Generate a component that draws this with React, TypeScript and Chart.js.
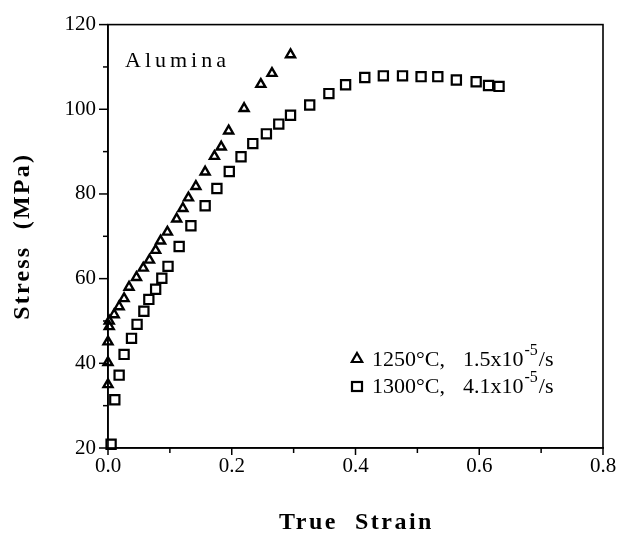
import React, { useEffect, useRef } from "react";
import { Chart, registerables } from "chart.js";
Chart.register(...registerables);

// 1250°C, 1.5x10^-5/s (triangles)
const triStrain = [0, 0, 0, 0.002, 0.002, 0.010, 0.018, 0.026, 0.034, 0.046, 0.057, 0.067, 0.077, 0.085, 0.096, 0.111, 0.121, 0.130, 0.142, 0.157, 0.172, 0.183, 0.195, 0.220, 0.247, 0.265, 0.295];
const triStress = [35.0, 40.2, 45.1, 48.7, 50.0, 51.5, 53.4, 55.3, 58.0, 60.3, 62.5, 64.4, 66.7, 68.9, 71.0, 74.1, 76.6, 79.1, 81.8, 85.2, 88.9, 91.1, 94.9, 100.2, 105.9, 108.5, 112.9];

// 1300°C, 4.1x10^-5/s (squares)
const sqStrain = [0.005, 0.011, 0.018, 0.026, 0.038, 0.047, 0.058, 0.066, 0.077, 0.087, 0.097, 0.115, 0.134, 0.157, 0.176, 0.196, 0.215, 0.234, 0.256, 0.276, 0.295, 0.326, 0.357, 0.384, 0.415, 0.445, 0.476, 0.506, 0.533, 0.563, 0.595, 0.615, 0.632];
const sqStress = [20.9, 31.4, 37.2, 42.1, 45.9, 49.2, 52.3, 55.1, 57.5, 60.1, 62.9, 67.6, 72.5, 77.2, 81.3, 85.3, 88.8, 91.9, 94.2, 96.5, 98.6, 101.0, 103.7, 105.8, 107.5, 107.9, 107.9, 107.7, 107.7, 106.9, 106.5, 105.6, 105.4];

const xTickLabels = ["0.0", "0.2", "0.4", "0.6", "0.8"];
const yTickLabels = ["20", "40", "60", "80", "100", "120"];

const seriesLabels = ["1250°C, 1.5x10", "1300°C, 4.1x10"];
const seriesSup = ["-5", "-5"];
const annotation = "Alumina";
const xTitle = "True  Strain";
const yTitle = "Stress  (MPa)";

const SERIF = "'Liberation Serif', 'Times New Roman', serif";

function drawTri(ctx: CanvasRenderingContext2D, x: number, y: number, r: number) {
  ctx.beginPath();
  ctx.moveTo(x, y - r);
  ctx.lineTo(x + r * 0.866, y + r * 0.5);
  ctx.lineTo(x - r * 0.866, y + r * 0.5);
  ctx.closePath();
  ctx.stroke();
}

const decorPlugin = {
  id: "decor",
  afterDraw(chart: any) {
    const ctx: CanvasRenderingContext2D = chart.ctx;
    const a = chart.chartArea;
    const xs = chart.scales.x;
    const ys = chart.scales.y;
    ctx.save();
    ctx.strokeStyle = "#000";
    ctx.fillStyle = "#000";
    // frame
    ctx.lineWidth = 1.6;
    ctx.strokeRect(a.left, a.top, a.right - a.left, a.bottom - a.top);
    // ticks
    ctx.lineWidth = 1.5;
    xs.ticks.forEach((t: any, i: number) => {
      const px = xs.getPixelForValue(t.value);
      const len = i % 2 === 0 ? 7 : 5;
      ctx.beginPath();
      ctx.moveTo(px, a.bottom);
      ctx.lineTo(px, a.bottom + len);
      ctx.stroke();
    });
    ys.ticks.forEach((t: any, i: number) => {
      const py = ys.getPixelForValue(t.value);
      const len = i % 2 === 0 ? 9 : 5;
      ctx.beginPath();
      ctx.moveTo(a.left, py);
      ctx.lineTo(a.left - len, py);
      ctx.stroke();
    });
    // annotation
    ctx.font = `22px ${SERIF}`;
    (ctx as any).letterSpacing = "4px";
    ctx.textAlign = "left";
    ctx.textBaseline = "alphabetic";
    ctx.fillText(annotation, a.left + 17, a.top + 42);
    (ctx as any).letterSpacing = "0px";

    // legend
    const lx = 372;
    const ly = [366, 393];
    ctx.lineWidth = 2.2;
    drawTri(ctx, 357, ly[0] - 7, 6);
    ctx.strokeRect(352, ly[1] - 11, 10, 9);
    seriesLabels.forEach((lab, i) => {
      const parts = lab.split(", ");
      ctx.font = `22px ${SERIF}`;
      ctx.fillText(parts[0] + ",", lx, ly[i]);
      let x = lx + 91;
      ctx.fillText(parts[1], x, ly[i]);
      x += ctx.measureText(parts[1]).width + 1;
      ctx.font = `16px ${SERIF}`;
      ctx.fillText(seriesSup[i], x, ly[i] - 11);
      x += ctx.measureText(seriesSup[i]).width + 1;
      ctx.font = `22px ${SERIF}`;
      ctx.fillText("/s", x, ly[i]);
    });

    // axis titles
    ctx.font = `bold 24px ${SERIF}`;
    (ctx as any).letterSpacing = "2.5px";
    ctx.textAlign = "center";
    ctx.textBaseline = "middle";
    ctx.fillText(xTitle, (a.left + a.right) / 2 + 1, 523);
    ctx.save();
    ctx.translate(23, (a.top + a.bottom) / 2);
    ctx.rotate(-Math.PI / 2);
    (ctx as any).letterSpacing = "2.2px";
    ctx.font = `bold 24px ${SERIF}`;
    ctx.fillText(yTitle, 0, 0);
    ctx.restore();
    ctx.restore();
  },
};

export default function App() {
  const ref = useRef<HTMLCanvasElement | null>(null);
  useEffect(() => {
    document.body.style.margin = "0";
    const canvas = ref.current!;
    const chart = new Chart(canvas, {
      type: "scatter",
      data: {
        datasets: [
          {
            label: seriesLabels[0],
            data: triStrain.map((x, i) => ({ x, y: triStress[i] })),
            pointStyle: "triangle",
            pointRadius: 5.2,
            pointBorderWidth: 2.4,
            pointBorderColor: "#000",
            pointBackgroundColor: "rgba(255,255,255,0)",
            clip: false,
          } as any,
          {
            label: seriesLabels[1],
            data: sqStrain.map((x, i) => ({ x, y: sqStress[i] })),
            pointStyle: "rect",
            pointRadius: 6.5,
            pointBorderWidth: 2.2,
            pointBorderColor: "#000",
            pointBackgroundColor: "#fff",
            clip: false,
          } as any,
        ],
      },
      options: {
        animation: false,
        responsive: false,
        maintainAspectRatio: false,
        layout: { padding: { top: 17, right: 21, left: 0, bottom: 0 } },
        plugins: { legend: { display: false }, tooltip: { enabled: false } },
        scales: {
          x: {
            type: "linear",
            min: 0,
            max: 0.8,
            grid: { display: false, drawTicks: false },
            border: { display: true, color: "#000", width: 1.6 },
            ticks: {
              stepSize: 0.1,
              autoSkip: false,
              maxRotation: 0,
              padding: 6,
              color: "#000",
              font: { family: SERIF, size: 21 },
              callback: (_v: any, i: number) => (i % 2 === 0 ? xTickLabels[i / 2] : ""),
            },
            afterFit: (s: any) => {
              s.height = 89;
            },
          },
          y: {
            type: "linear",
            min: 20,
            max: 120,
            grid: { display: false, drawTicks: false },
            border: { display: true, color: "#000", width: 1.6 },
            ticks: {
              stepSize: 10,
              autoSkip: false,
              padding: 12,
              color: "#000",
              font: { family: SERIF, size: 21 },
              callback: (_v: any, i: number) => (i % 2 === 0 ? yTickLabels[i / 2] : ""),
            },
            afterFit: (s: any) => {
              s.width = 108;
            },
          },
        },
      } as any,
      plugins: [decorPlugin],
    });
    return () => chart.destroy();
  }, []);
  return <canvas ref={ref} width={624} height={537} style={{ display: "block", width: 624, height: 537 }} />;
}
